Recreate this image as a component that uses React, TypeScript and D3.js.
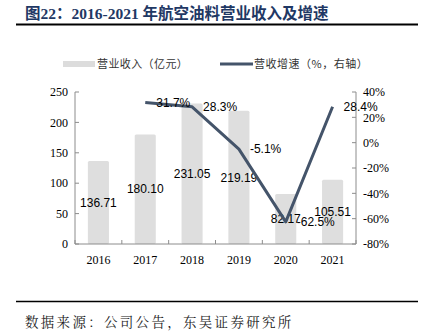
import React from "react";
import * as d3 from "d3";

const years = ["2016", "2017", "2018", "2019", "2020", "2021"];
const revenue = [136.71, 180.1, 231.05, 219.19, 82.17, 105.51];
const growth = [null, 31.7, 28.3, -5.1, -62.5, 28.4];
const leftTicks = [0, 50, 100, 150, 200, 250];
const rightTicks = [-80, -60, -40, -20, 0, 20, 40];

const W = 427;
const H = 334;
const plotL = 75;
const plotR = 356;
const plotT = 92;
const plotB = 244;

export default function App() {
  const x = d3.scaleBand<string>().domain(years).range([plotL, plotR]).paddingInner(0).paddingOuter(0);
  const bw = x.bandwidth() * 0.45;
  const yL = d3.scaleLinear().domain([0, 250]).range([plotB, plotT]);
  const yR = d3.scaleLinear().domain([-80, 40]).range([plotB, plotT]);
  const cx = (y: string) => (x(y) as number) + x.bandwidth() / 2;

  const linePts = years
    .map((y, i) => ({ y, v: growth[i] }))
    .filter((d) => d.v !== null) as { y: string; v: number }[];
  const line = d3
    .line<{ y: string; v: number }>()
    .x((d) => cx(d.y))
    .y((d) => yR(d.v));

  const axisColor = "#8c8c8c";
  const serif = "'Liberation Serif', 'Times New Roman', serif";
  const sans = "'Liberation Sans', Arial, sans-serif";
  const cjk = "'Noto Sans CJK SC', sans-serif";
  const boundaries = d3.range(years.length + 1).map((i) => plotL + i * x.bandwidth());

  return (
    <svg width={W} height={H} style={{ position: "absolute", left: 0, top: 0, background: "#fff" }}>
      {/* Title */}
      <text x={25} y={19} fontSize={15.5} fontWeight="bold" fill="#1f3864" fontFamily={"'Liberation Serif', 'Noto Sans CJK SC', serif"}>
        <tspan fontFamily={cjk}>图</tspan>
        <tspan>22</tspan>
        <tspan fontFamily={cjk}>：</tspan>
        <tspan>2016-2021 </tspan>
        <tspan fontFamily={cjk}>年航空油料营业收入及增速</tspan>
      </text>
      <line x1={16} x2={418} y1={24.5} y2={24.5} stroke="#000" strokeWidth={2} />

      {/* Legend */}
      <rect x={63} y={61} width={32} height={6} fill="#dcdcdc" />
      <text x={97} y={68} fontSize={11} letterSpacing={0.4} fill="#333" fontFamily={cjk}>营业收入（亿元）</text>
      <line x1={220} x2={253} y1={64} y2={64} stroke="#44546a" strokeWidth={3} />
      <text x={254} y={68} fontSize={11} letterSpacing={0.5} fill="#333" fontFamily={cjk}>营收增速（%，右轴）</text>

      {/* Bars */}
      {years.map((y, i) => (
        <rect key={y} x={cx(y) - bw / 2} y={yL(revenue[i])} width={bw} height={plotB - yL(revenue[i])} fill="#dedede" rx={1.5} />
      ))}

      {/* Axes */}
      <line x1={plotL} x2={plotL} y1={plotT} y2={plotB} stroke={axisColor} />
      <line x1={plotR} x2={plotR} y1={plotT} y2={plotB} stroke={axisColor} />
      <line x1={plotL} x2={plotR} y1={plotB} y2={plotB} stroke={axisColor} />
      {leftTicks.map((t) => (
        <g key={"l" + t}>
          <line x1={plotL} x2={plotL + 4} y1={yL(t)} y2={yL(t)} stroke={axisColor} />
          <text x={68} y={yL(t)} dy="0.35em" textAnchor="end" fontSize={12} fontFamily={serif} fill="#000">{t}</text>
        </g>
      ))}
      {rightTicks.map((t) => (
        <g key={"r" + t}>
          <line x1={plotR - 4} x2={plotR} y1={yR(t)} y2={yR(t)} stroke={axisColor} />
          <text x={363} y={yR(t)} dy="0.35em" textAnchor="start" fontSize={12} fontFamily={serif} fill="#000">{t}%</text>
        </g>
      ))}
      {boundaries.map((b, i) => (
        <line key={"b" + i} x1={b} x2={b} y1={plotB} y2={plotB - 4} stroke={axisColor} />
      ))}
      {years.map((y) => (
        <text key={"x" + y} x={cx(y)} y={260} dy="0.35em" textAnchor="middle" fontSize={12} fontFamily={serif} fill="#000">{y}</text>
      ))}

      {/* Bar labels */}
      {years.map((y, i) => (
        <text key={"bl" + y} x={cx(y)} y={(yL(revenue[i]) + plotB) / 2} dy="0.35em" textAnchor="middle" fontSize={12} fontFamily={sans} fill="#000">
          {revenue[i].toFixed(2)}
        </text>
      ))}

      {/* Line */}
      <path d={line(linePts) || ""} fill="none" stroke="#44546a" strokeWidth={3} strokeLinejoin="round" />
      {linePts.map((d) => (
        <text key={"ll" + d.y} x={cx(d.y) + 11} y={yR(d.v)} dy="0.35em" textAnchor="start" fontSize={12} fontFamily={sans} fill="#000">
          {d.v.toFixed(1)}%
        </text>
      ))}

      {/* Footer */}
      <line x1={16} x2={418} y1={301.5} y2={301.5} stroke="#000" strokeWidth={1.5} />
      <text x={25} y={327} fontSize={13.5} letterSpacing={2.3} fill="#222" fontFamily={"'Noto Serif CJK SC', 'Noto Sans CJK SC', serif"}>数据来源：公司公告，东吴证券研究所</text>
    </svg>
  );
}
